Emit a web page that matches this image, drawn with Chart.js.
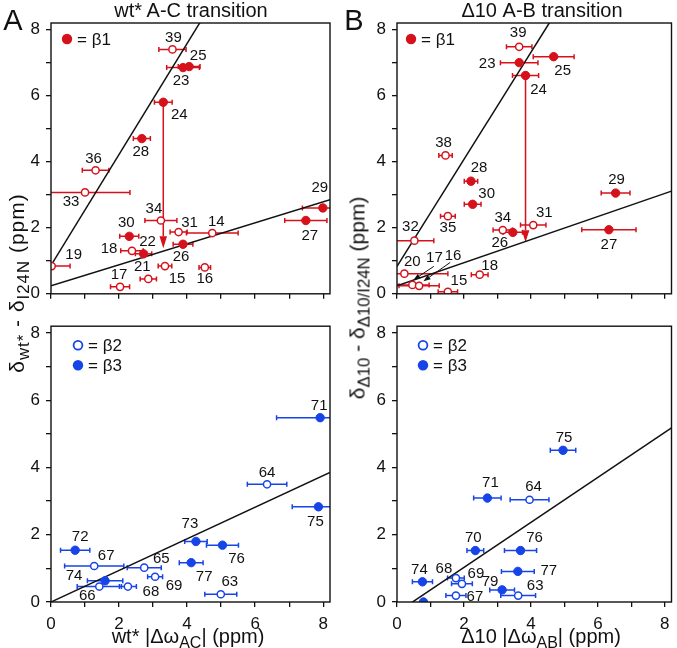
<!DOCTYPE html>
<html>
<head>
<meta charset="utf-8">
<title>Chemical shift differences vs |Δω|</title>
<script src="https://cdn.jsdelivr.net/npm/chart.js@4.4.1/dist/chart.umd.min.js"></script>
<style>
  body { margin: 0; background: #fff; }
  #fig { position: relative; width: 677px; height: 648px; overflow: hidden;
         font-family: "Liberation Sans", Arial, Helvetica, sans-serif; color: #111; }
  #fig canvas { position: absolute; }
  .txt { position: absolute; white-space: nowrap; line-height: 1; transform: translate(-50%, -50%); }
  .rot { transform: translate(-50%, -50%) rotate(-90deg); }
  sub { font-size: 0.8em; vertical-align: -0.3em; line-height: 0; }
</style>
</head>
<body>
<div id="fig">
  <canvas id="aTop" width="340" height="310" style="left:0;top:0"></canvas>
  <canvas id="bTop" width="337" height="310" style="left:340px;top:0"></canvas>
  <canvas id="aBot" width="340" height="338" style="left:0;top:310px"></canvas>
  <canvas id="bBot" width="337" height="338" style="left:340px;top:310px"></canvas>

  <div class="txt" style="left:13px;top:20px;font-size:29px">A</div>
  <div class="txt" style="left:354px;top:20px;font-size:29px">B</div>
  <div class="txt" style="left:191px;top:10px;font-size:20px">wt* A-C transition</div>
  <div class="txt" style="left:542px;top:10px;font-size:20px">Δ10 A-B transition</div>
  <div class="txt rot" style="left:16px;top:283px;font-size:21px;letter-spacing:1px">δ<sub>wt*</sub> - δ<sub>I24N</sub> (ppm)</div>
  <div class="txt rot" style="left:357px;top:298px;font-size:21px">δ<sub>Δ10</sub> - δ<sub>Δ10/I24N</sub> (ppm)</div>
  <div class="txt" style="left:188px;top:636px;font-size:20px">wt* |Δω<sub>AC</sub>| (ppm)</div>
  <div class="txt" style="left:541px;top:636px;font-size:20px">Δ10 |Δω<sub>AB</sub>| (ppm)</div>
</div>

<script>
// ---- data -------------------------------------------------------------
// shared axes
var axisTicks = [0, 1, 2, 3, 4, 5, 6, 7, 8];
var axisLabels = [0, 2, 4, 6, 8];
var axisMin = 0, axisMax = 8.2;

// A, top: beta1 region (filled) and other residues (open), wt* A-C
var aTopIds    = ['39', '25', '23', '24', '28', '36', '33', '19', '34', '31', '14', '30', '18', '22', '26', '21', '15', '16', '17', '29', '27'];
var aTopX      = [3.57, 4.06, 3.88, 3.30, 2.67, 1.31, 1.00, 0.02, 3.23, 3.75, 4.74, 2.30, 2.38, 2.72, 3.88, 2.86, 3.35, 4.52, 2.03, 7.99, 7.49];
var aTopY      = [7.40, 6.88, 6.85, 5.80, 4.70, 3.74, 3.07, 0.84, 2.22, 1.87, 1.84, 1.74, 1.30, 1.21, 1.50, 0.45, 0.84, 0.80, 0.21, 2.60, 2.22];
var aTopErr    = [0.40, 0.32, 0.48, 0.26, 0.25, 0.39, 1.32, 0.54, 0.47, 0.25, 0.76, 0.28, 0.33, 0.24, 0.29, 0.24, 0.20, 0.17, 0.28, 0.60, 0.62];
var aTopFilled = [0, 1, 1, 1, 1, 0, 0, 0, 0, 0, 0, 1, 0, 1, 1, 0, 0, 0, 0, 1, 1];
var aTopFits   = [[0.86, 1.68], [0.24, 0.318]];   // [intercept, slope]
var aTopShift  = [3.30, 5.80, 1.38];              // x, from y, to y

// B, top: Δ10 A-B
var bTopIds    = ['39', '23', '25', '24', '38', '28', '30', '35', '29', '27', '34', '26', '31', '32', '20', '17', '16', '18', '15'];
var bTopX      = [3.65, 3.65, 4.68, 3.84, 1.45, 2.21, 2.26, 1.52, 6.53, 6.33, 3.16, 3.46, 4.07, 0.52, 0.22, 0.46, 0.66, 2.47, 1.52];
var bTopY      = [7.48, 7.00, 7.18, 6.61, 4.19, 3.41, 2.71, 2.35, 3.05, 1.94, 1.93, 1.86, 2.08, 1.61, 0.61, 0.27, 0.24, 0.58, 0.06];
var bTopErr    = [0.38, 0.56, 0.61, 0.39, 0.20, 0.20, 0.25, 0.22, 0.43, 0.81, 0.29, 0.29, 0.38, 0.58, 1.30, 0.50, 0.60, 0.25, 0.29];
var bTopFilled = [0, 1, 1, 1, 0, 1, 1, 0, 1, 1, 0, 1, 0, 0, 0, 0, 0, 0, 0];
var bTopFits   = [[0.83, 1.62], [0.24, 0.35]];
var bTopShift  = [3.84, 6.61, 1.56];
var bTopPointers = [[1.10, 0.83, 0.49, 0.42], [1.59, 0.95, 0.79, 0.38]];  // label 17, label 16

// A, bottom: beta2 (open) and beta3 (filled)
var aBotIds    = ['71', '64', '75', '73', '76', '77', '72', '67', '65', '69', '74', '66', '68', '63'];
var aBotX      = [7.91, 6.35, 7.86, 4.26, 5.04, 4.12, 0.71, 1.27, 2.74, 3.06, 1.59, 1.42, 2.26, 4.99];
var aBotY      = [5.48, 3.50, 2.83, 1.80, 1.69, 1.17, 1.54, 1.07, 1.02, 0.75, 0.63, 0.46, 0.46, 0.23];
var aBotErr    = [1.28, 0.58, 0.77, 0.33, 0.47, 0.35, 0.43, 0.87, 0.50, 0.22, 0.52, 0.65, 0.25, 0.47];
var aBotFilled = [1, 0, 1, 1, 1, 1, 1, 0, 0, 0, 1, 0, 0, 0];
var aBotFits   = [[0, 0.47]];

// B, bottom
var bBotIds    = ['75', '71', '64', '70', '76', '77', '74', '68', '69', '79', '63', '67', ''];
var bBotX      = [4.96, 2.70, 3.96, 2.34, 3.69, 3.61, 0.76, 1.76, 1.94, 3.14, 3.62, 1.76, 0.79];
var bBotY      = [4.51, 3.09, 3.04, 1.53, 1.53, 0.91, 0.60, 0.71, 0.54, 0.36, 0.19, 0.19, 0.00];
var bBotErr    = [0.38, 0.41, 0.58, 0.25, 0.48, 0.49, 0.30, 0.25, 0.31, 0.37, 0.52, 0.30, 0];
var bBotFilled = [1, 1, 0, 1, 1, 1, 1, 0, 0, 1, 0, 0, 1];
var bBotFits   = [[-0.31, 0.669]];

// label offsets from their point, px
var aTopLabelPos = [[1,-12],[9,-11],[-2,13],[16,13],[-1,13],[-2,-11],[-14,9],[22,-11],[-7,-12],[11,-9],[4,-11],[-3,-13],[-23,-2],[4,-12],[-2,13],[-6,-12],[12,13],[0,11],[-1,-12],[-3,-20],[4,15]];
var bTopLabelPos = [[-1,-14],[-32,1],[9,14],[13,14],[-2,-13],[8,-13],[14,-10],[0,12],[1,-13],[0,15],[0,-12],[-13,10],[11,-12],[-4,-14],[8,-12],[22,-27],[34,-30],[10,-9],[11,-11]];
var aBotLabelPos = [[-1,-12],[0,-11],[-3,15],[-6,-18],[14,14],[13,14],[5,-13],[12,-10],[17,-9],[19,9],[-31,-5],[-12,9],[23,5],[9,-12]];
var bBotLabelPos = [[1,-12],[3,-15],[4,-13],[-2,-13],[14,-13],[31,-1],[-3,-12],[-12,-9],[14,-10],[-12,-8],[17,-10],[19,1],[0,0]];

// ---- drawing ----------------------------------------------------------
var FONT = '"Liberation Sans", Arial, Helvetica, sans-serif';
var RED = '#d5121b';
var BLUE = '#1744e8';

function arrow(ctx, x0, y0, x1, y1, len, half) {
  var a = Math.atan2(y1 - y0, x1 - x0);
  var bx = x1 - len * Math.cos(a), by = y1 - len * Math.sin(a);
  ctx.beginPath(); ctx.moveTo(x0, y0); ctx.lineTo(bx, by); ctx.stroke();
  ctx.beginPath();
  ctx.moveTo(x1, y1);
  ctx.lineTo(bx + half * Math.sin(a), by - half * Math.cos(a));
  ctx.lineTo(bx - half * Math.sin(a), by + half * Math.cos(a));
  ctx.closePath(); ctx.fill();
}

function extras(d, s) {
  return {
    id: 'extras',
    beforeDatasetsDraw: function (chart) {
      var ctx = chart.ctx, a = chart.chartArea, xs = chart.scales.x, ys = chart.scales.y;
      ctx.save();
      ctx.beginPath(); ctx.rect(a.left, a.top, a.right - a.left, a.bottom - a.top); ctx.clip();
      ctx.strokeStyle = s.color; ctx.fillStyle = s.color; ctx.lineWidth = 1.5;
      // horizontal error bars
      for (var i = 0; i < d.x.length; i++) {
        if (!d.err[i]) continue;
        var y = ys.getPixelForValue(d.y[i]);
        var x0 = xs.getPixelForValue(d.x[i] - d.err[i]), x1 = xs.getPixelForValue(d.x[i] + d.err[i]);
        ctx.beginPath();
        ctx.moveTo(x0, y); ctx.lineTo(x1, y);
        ctx.moveTo(x0, y - 2.5); ctx.lineTo(x0, y + 2.5);
        ctx.moveTo(x1, y - 2.5); ctx.lineTo(x1, y + 2.5);
        ctx.stroke();
      }
      // shift arrow
      if (d.shift) {
        var ax = xs.getPixelForValue(d.shift[0]);
        arrow(ctx, ax, ys.getPixelForValue(d.shift[1]), ax, ys.getPixelForValue(d.shift[2]), 12, 3.8);
      }
      ctx.restore();
    },
    afterDatasetsDraw: function (chart) {
      var ctx = chart.ctx, a = chart.chartArea, xs = chart.scales.x, ys = chart.scales.y;
      ctx.save();
      ctx.fillStyle = '#111'; ctx.strokeStyle = '#111'; ctx.lineWidth = 1;
      (d.pointers || []).forEach(function (p) {
        arrow(ctx, xs.getPixelForValue(p[0]), ys.getPixelForValue(p[1]),
              xs.getPixelForValue(p[2]), ys.getPixelForValue(p[3]), 7, 2.6);
      });
      ctx.font = '15px ' + FONT;
      ctx.textAlign = 'center'; ctx.textBaseline = 'middle';
      d.ids.forEach(function (lab, i) {
        if (!lab) return;
        ctx.fillText(lab, xs.getPixelForValue(d.x[i]) + d.pos[i][0], ys.getPixelForValue(d.y[i]) + d.pos[i][1]);
      });
      // in-plot key
      ctx.font = '17px ' + FONT; ctx.textAlign = 'left';
      s.key.forEach(function (k) {
        var kx = a.left + k.dx, ky = a.top + k.dy;
        ctx.beginPath(); ctx.arc(kx, ky, k.filled ? 5.2 : 4.4, 0, Math.PI * 2);
        if (k.filled) { ctx.fillStyle = s.color; ctx.fill(); }
        else { ctx.fillStyle = '#fff'; ctx.fill(); ctx.lineWidth = 1.8; ctx.strokeStyle = s.color; ctx.stroke(); }
        ctx.fillStyle = '#111';
        ctx.fillText(k.text, kx + 10, ky + 1);
      });
      ctx.restore();
    },
    afterDraw: function (chart) {
      var ctx = chart.ctx, a = chart.chartArea;
      ctx.save();
      ctx.strokeStyle = '#111'; ctx.lineWidth = 1.4;
      ctx.strokeRect(a.left, a.top, a.right - a.left, a.bottom - a.top);
      ctx.restore();
    }
  };
}

function makePanel(id, d, s) {
  var filledPts = [], openPts = [];
  d.ids.forEach(function (lab, i) {
    (d.filled[i] ? filledPts : openPts).push({x: d.x[i], y: d.y[i]});
  });
  var datasets = [
    {data: filledPts, pointRadius: 4.2, pointBackgroundColor: s.color, pointBorderColor: s.color,
     pointBorderWidth: 1, order: 1},
    {data: openPts, pointRadius: 3.6, pointBackgroundColor: '#fff', pointBorderColor: s.color,
     pointBorderWidth: 1.5, order: 2}
  ];
  d.fits.forEach(function (f) {
    datasets.push({data: [{x: axisMin, y: f[0] + f[1] * axisMin}, {x: axisMax, y: f[0] + f[1] * axisMax}],
      showLine: true, pointRadius: 0, borderColor: '#111', borderWidth: 1.5, order: 3});
  });

  function axis(showLabels, pad, fitKey, fitVal) {
    var o = {
      type: 'linear', min: axisMin, max: axisMax,
      afterBuildTicks: function (sc) { sc.ticks = axisTicks.map(function (v) { return {value: v}; }); },
      grid: {drawOnChartArea: false, drawTicks: true, tickLength: 5, color: '#111', lineWidth: 1.3},
      border: {display: false},
      ticks: {autoSkip: false, maxRotation: 0, color: '#111', padding: pad,
              font: {family: FONT, size: 17},
              callback: function (v) { return showLabels && axisLabels.indexOf(v) >= 0 ? v : ''; }}
    };
    o.afterFit = function (sc) { sc[fitKey] = fitVal; };
    return o;
  }

  return new Chart(document.getElementById(id), {
    type: 'scatter',
    data: {datasets: datasets},
    options: {
      responsive: false, animation: false,
      layout: {padding: s.pad},
      plugins: {legend: {display: false}, tooltip: {enabled: false}},
      scales: {
        x: axis(s.xLabels, 7, 'height', s.xh),
        y: axis(true, 6, 'width', s.yw)
      }
    },
    plugins: [extras(d, s)]
  });
}

makePanel('aTop',
  {ids: aTopIds, x: aTopX, y: aTopY, err: aTopErr, filled: aTopFilled, fits: aTopFits, shift: aTopShift, pos: aTopLabelPos},
  {color: RED, pad: {top: 23, right: 10, left: 0, bottom: 0}, yw: 51, xh: 8, xLabels: false,
   key: [{filled: true, text: '= β1', dx: 16, dy: 16}]});

makePanel('bTop',
  {ids: bTopIds, x: bTopX, y: bTopY, err: bTopErr, filled: bTopFilled, fits: bTopFits, shift: bTopShift,
   pointers: bTopPointers, pos: bTopLabelPos},
  {color: RED, pad: {top: 23, right: 2, left: 0, bottom: 0}, yw: 57, xh: 8, xLabels: false,
   key: [{filled: true, text: '= β1', dx: 14, dy: 16}]});

makePanel('aBot',
  {ids: aBotIds, x: aBotX, y: aBotY, err: aBotErr, filled: aBotFilled, fits: aBotFits, pos: aBotLabelPos},
  {color: BLUE, pad: {top: 13, right: 10, left: 0, bottom: 0}, yw: 51, xh: 46, xLabels: true,
   key: [{filled: false, text: '= β2', dx: 27, dy: 19}, {filled: true, text: '= β3', dx: 27, dy: 39}]});

makePanel('bBot',
  {ids: bBotIds, x: bBotX, y: bBotY, err: bBotErr, filled: bBotFilled, fits: bBotFits, pos: bBotLabelPos},
  {color: BLUE, pad: {top: 13, right: 2, left: 0, bottom: 0}, yw: 57, xh: 46, xLabels: true,
   key: [{filled: false, text: '= β2', dx: 26, dy: 19}, {filled: true, text: '= β3', dx: 26, dy: 39}]});
</script>
</body>
</html>
